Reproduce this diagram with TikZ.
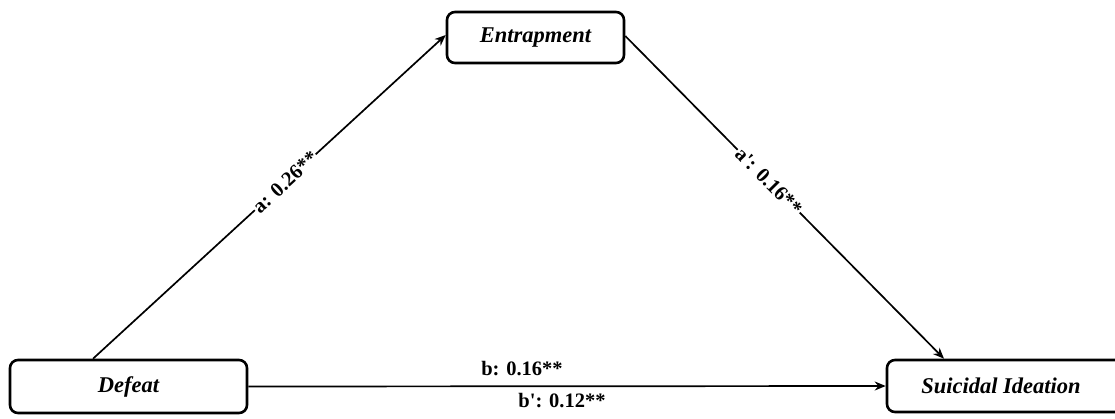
\documentclass[tikz,border=0pt]{standalone}
\usepackage{fontspec}
\setmainfont{Liberation Serif}
\usetikzlibrary{arrows.meta}
\begin{document}
\begin{tikzpicture}[x=1pt,y=-1pt,
  box/.style={draw, line width=2.6pt, rounded corners=8pt, fill=white,
    font=\fontsize{22.5}{26}\selectfont\bfseries\itshape, inner sep=0pt, align=center},
  conn/.style={line width=1.7pt, -{Stealth[length=11pt,width=9pt]}},
  lab/.style={font=\fontsize{20.5}{24}\selectfont\bfseries, inner sep=1pt}]
\useasboundingbox (0,0) rectangle (1115,418);
\clip (0,0) rectangle (1115,418);
\fill[white] (0,0) rectangle (1115,418);
\node[box, minimum width=237pt, minimum height=53pt] (def) at (128.5,386.5) {Defeat};
\node[box, minimum width=177pt, minimum height=51pt] (ent) at (535.5,37.5) {Entrapment};
\node[box, minimum width=240pt, minimum height=52pt] (sui) at (1007,386) {};
\node[font=\fontsize{22.5}{26}\selectfont\bfseries\itshape] (suit) at (1001,386) {Suicidal Ideation};
\coordinate (d1) at (def.north -| 93,0);
\coordinate (e1) at (ent.west |- 0,35);
\coordinate (e2) at (ent.east |- 0,36);
\coordinate (s1) at (sui.north -| 944,0);
\draw[conn] (d1) -- node[lab, pos=0.545, sloped, fill=white] (la) {a: 0.26**} (e1);
\draw[conn] (e2) -- node[lab, pos=0.45, sloped, fill=white] (lap) {a\textquotesingle: 0.16**} (s1);
\draw[conn] (def.east) -- (sui.west);
\node[lab] (lb) at (522,369) {b: 0.16**};
\node[lab] (lbp) at (562,401) {b\textquotesingle: 0.12**};
\end{tikzpicture}
\end{document}
